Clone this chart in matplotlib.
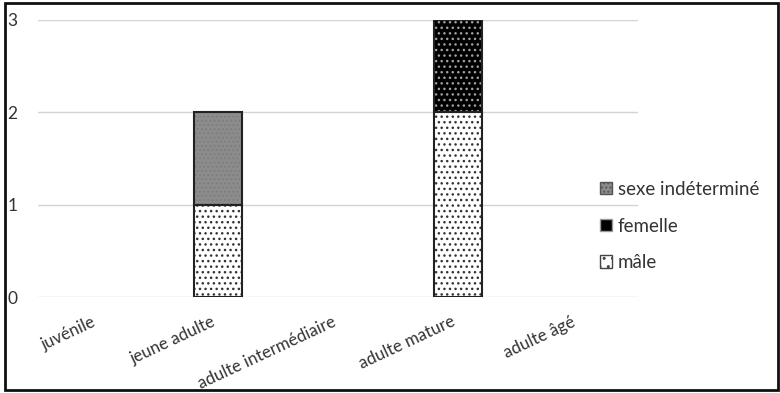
import matplotlib.pyplot as plt
from matplotlib.patches import Patch, Rectangle
import numpy as np

plt.rcParams['font.family'] = ['Lato', 'DejaVu Sans']
plt.rcParams['hatch.linewidth'] = 1.0

categories = ['juvénile', 'jeune adulte', 'adulte intermédiaire', 'adulte mature', 'adulte âgé']
male = [0, 1, 0, 2, 0]
femelle = [0, 0, 0, 1, 0]
indetermine = [0, 1, 0, 0, 0]

def main():
	fig = plt.figure(figsize=(7.8, 3.93), dpi=100)
	ax = fig.add_axes([38 / 780, 96 / 393, 600 / 780, 277 / 393])
	x = np.arange(len(categories))
	w = 0.4
	m = np.array(male)
	f = np.array(femelle)
	s = np.array(indetermine)

	# hatched fills, then black outlines on top (skip empty segments)
	series = [
		(m, np.zeros_like(m), 'white', '#333333', '...'),
		(f, m, 'black', '#a0a0a0', '...'),
		(s, m + f, '#8c8c8c', '#7e7e7e', '....'),
	]
	for vals, bot, fc, hc, hatch in series:
		keep = vals > 0
		ax.bar(x[keep], vals[keep], w, bottom=bot[keep], color=fc, edgecolor=hc, hatch=hatch,
			linewidth=0, zorder=2)
		ax.bar(x[keep], vals[keep], w, bottom=bot[keep], fill=False, edgecolor='#222222',
			linewidth=1.5, zorder=3)

	ax.set_xlim(-0.5, len(categories) - 0.5)
	ax.set_ylim(0, 3)
	ax.set_yticks([0, 1, 2, 3])
	ax.grid(axis='y', color='#d4d4d4', linewidth=1, zorder=0)
	ax.set_axisbelow(True)
	for sp in ax.spines.values():
		sp.set_visible(False)
	ax.tick_params(axis='y', length=0, pad=22, labelsize=12.5, labelcolor='#333333')
	ax.tick_params(axis='x', length=0, pad=12, labelsize=12.2, labelcolor='#333333')
	ax.set_xticks(x)
	ax.set_xticklabels(categories, rotation=25, ha='right')
	for lbl in ax.get_yticklabels():
		lbl.set_horizontalalignment('left')

	handles = [
		Patch(facecolor='#8c8c8c', edgecolor='#555555', hatch='....', label='sexe indéterminé'),
		Patch(facecolor='black', edgecolor='#9a9a9a', label='femelle'),
		Patch(facecolor='white', edgecolor='#444444', hatch='..', label='mâle'),
	]
	fig.legend(handles=handles, loc='center left', bbox_to_anchor=(583 / 780, 1 - 226 / 393),
		frameon=False, fontsize=13.5, handlelength=0.65, handleheight=0.65, handletextpad=0.3,
		labelspacing=1.05, labelcolor='#333333')

	fig.patches.append(Rectangle((5 / 780, 3 / 393), 773 / 780, 387 / 393, transform=fig.transFigure,
		fill=False, edgecolor='#111111', linewidth=2))
	fig.savefig('out.png', dpi=100)

if __name__ == '__main__':
	main()
